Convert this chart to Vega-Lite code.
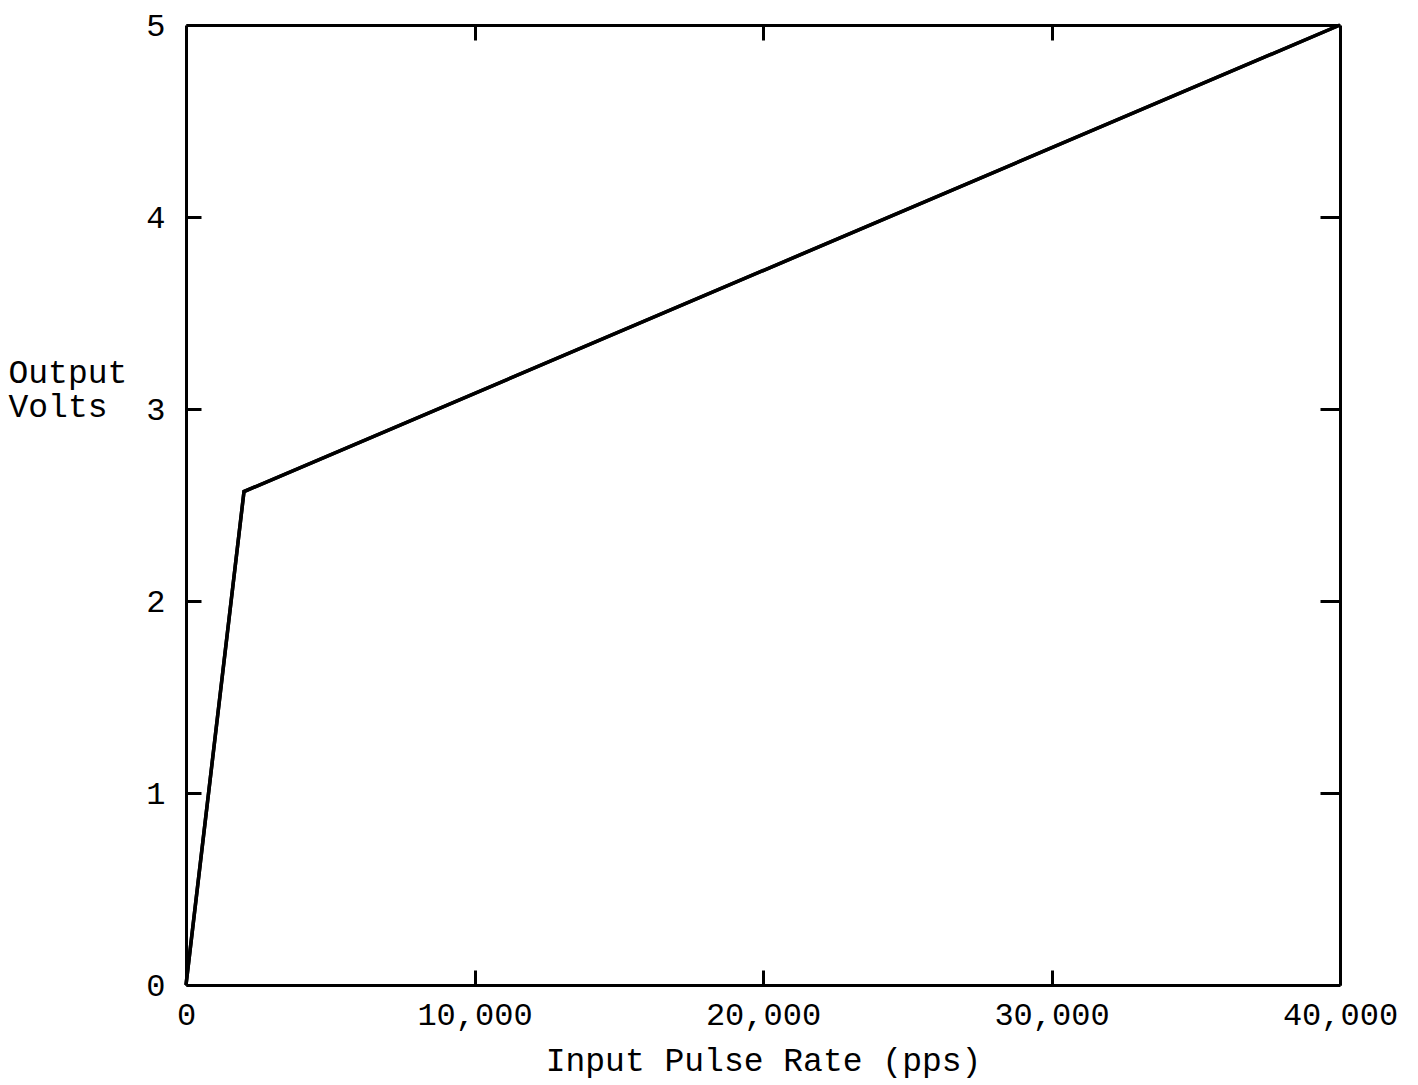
{
  "$schema": "https://vega.github.io/schema/vega-lite/v6.json",
  "width": 1154,
  "height": 960,
  "autosize": {"type": "none"},
  "padding": {"left": 186, "top": 25, "right": 78, "bottom": 100},
  "background": "white",
  "config": {
    "view": {"stroke": null},
    "font": "Liberation Mono",
    "axis": {
      "domainColor": "black",
      "domainWidth": 3,
      "tickColor": "black",
      "tickWidth": 3,
      "grid": false,
      "labelFont": "Liberation Mono",
      "labelFontSize": 32,
      "labelColor": "black",
      "titleFont": "Liberation Mono",
      "titleFontSize": 33,
      "titleFontWeight": "normal",
      "titleColor": "black"
    }
  },
  "data": {
    "values": [
      {"rate": 0, "volts": 0},
      {"rate": 2010, "volts": 2.57},
      {"rate": 40000, "volts": 5}
    ]
  },
  "layer": [
    {
      "mark": {"type": "line", "color": "black", "strokeWidth": 3.5},
      "encoding": {
        "x": {
          "field": "rate", "type": "quantitative",
          "scale": {"domain": [0, 40000], "nice": false},
          "axis": {
            "orient": "bottom",
            "values": [0, 10000, 20000, 30000, 40000],
            "format": ",d",
            "tickSize": -15,
            "labelPadding": 29,
            "labelFlush": false,
            "title": "Input Pulse Rate (pps)",
            "titlePadding": 14
          }
        },
        "y": {
          "field": "volts", "type": "quantitative",
          "scale": {"domain": [0, 5], "nice": false},
          "axis": {
            "orient": "left",
            "values": [0, 1, 2, 3, 4, 5],
            "tickSize": -15,
            "labelPadding": 36,
            "labelFlush": false,
            "title": ["Output", "Volts"],
            "titleAngle": 0,
            "titleAlign": "left",
            "titleBaseline": "middle",
            "titleX": -178,
            "titleY": 347,
            "titleLineHeight": 34
          }
        }
      }
    },
    {
      "mark": {"type": "line", "color": "black", "strokeWidth": 3.5},
      "encoding": {
        "x": {
          "field": "rate", "type": "quantitative",
          "scale": {"domain": [0, 40000], "nice": false},
          "axis": {
            "orient": "top",
            "values": [10000, 20000, 30000],
            "tickSize": -15,
            "labels": false,
            "title": null
          }
        },
        "y": {
          "field": "volts", "type": "quantitative",
          "scale": {"domain": [0, 5], "nice": false},
          "axis": {
            "orient": "right",
            "values": [1, 2, 3, 4],
            "tickSize": -20,
            "labels": false,
            "title": null
          }
        }
      }
    }
  ],
  "resolve": {"axis": {"x": "independent", "y": "independent"}}
}
